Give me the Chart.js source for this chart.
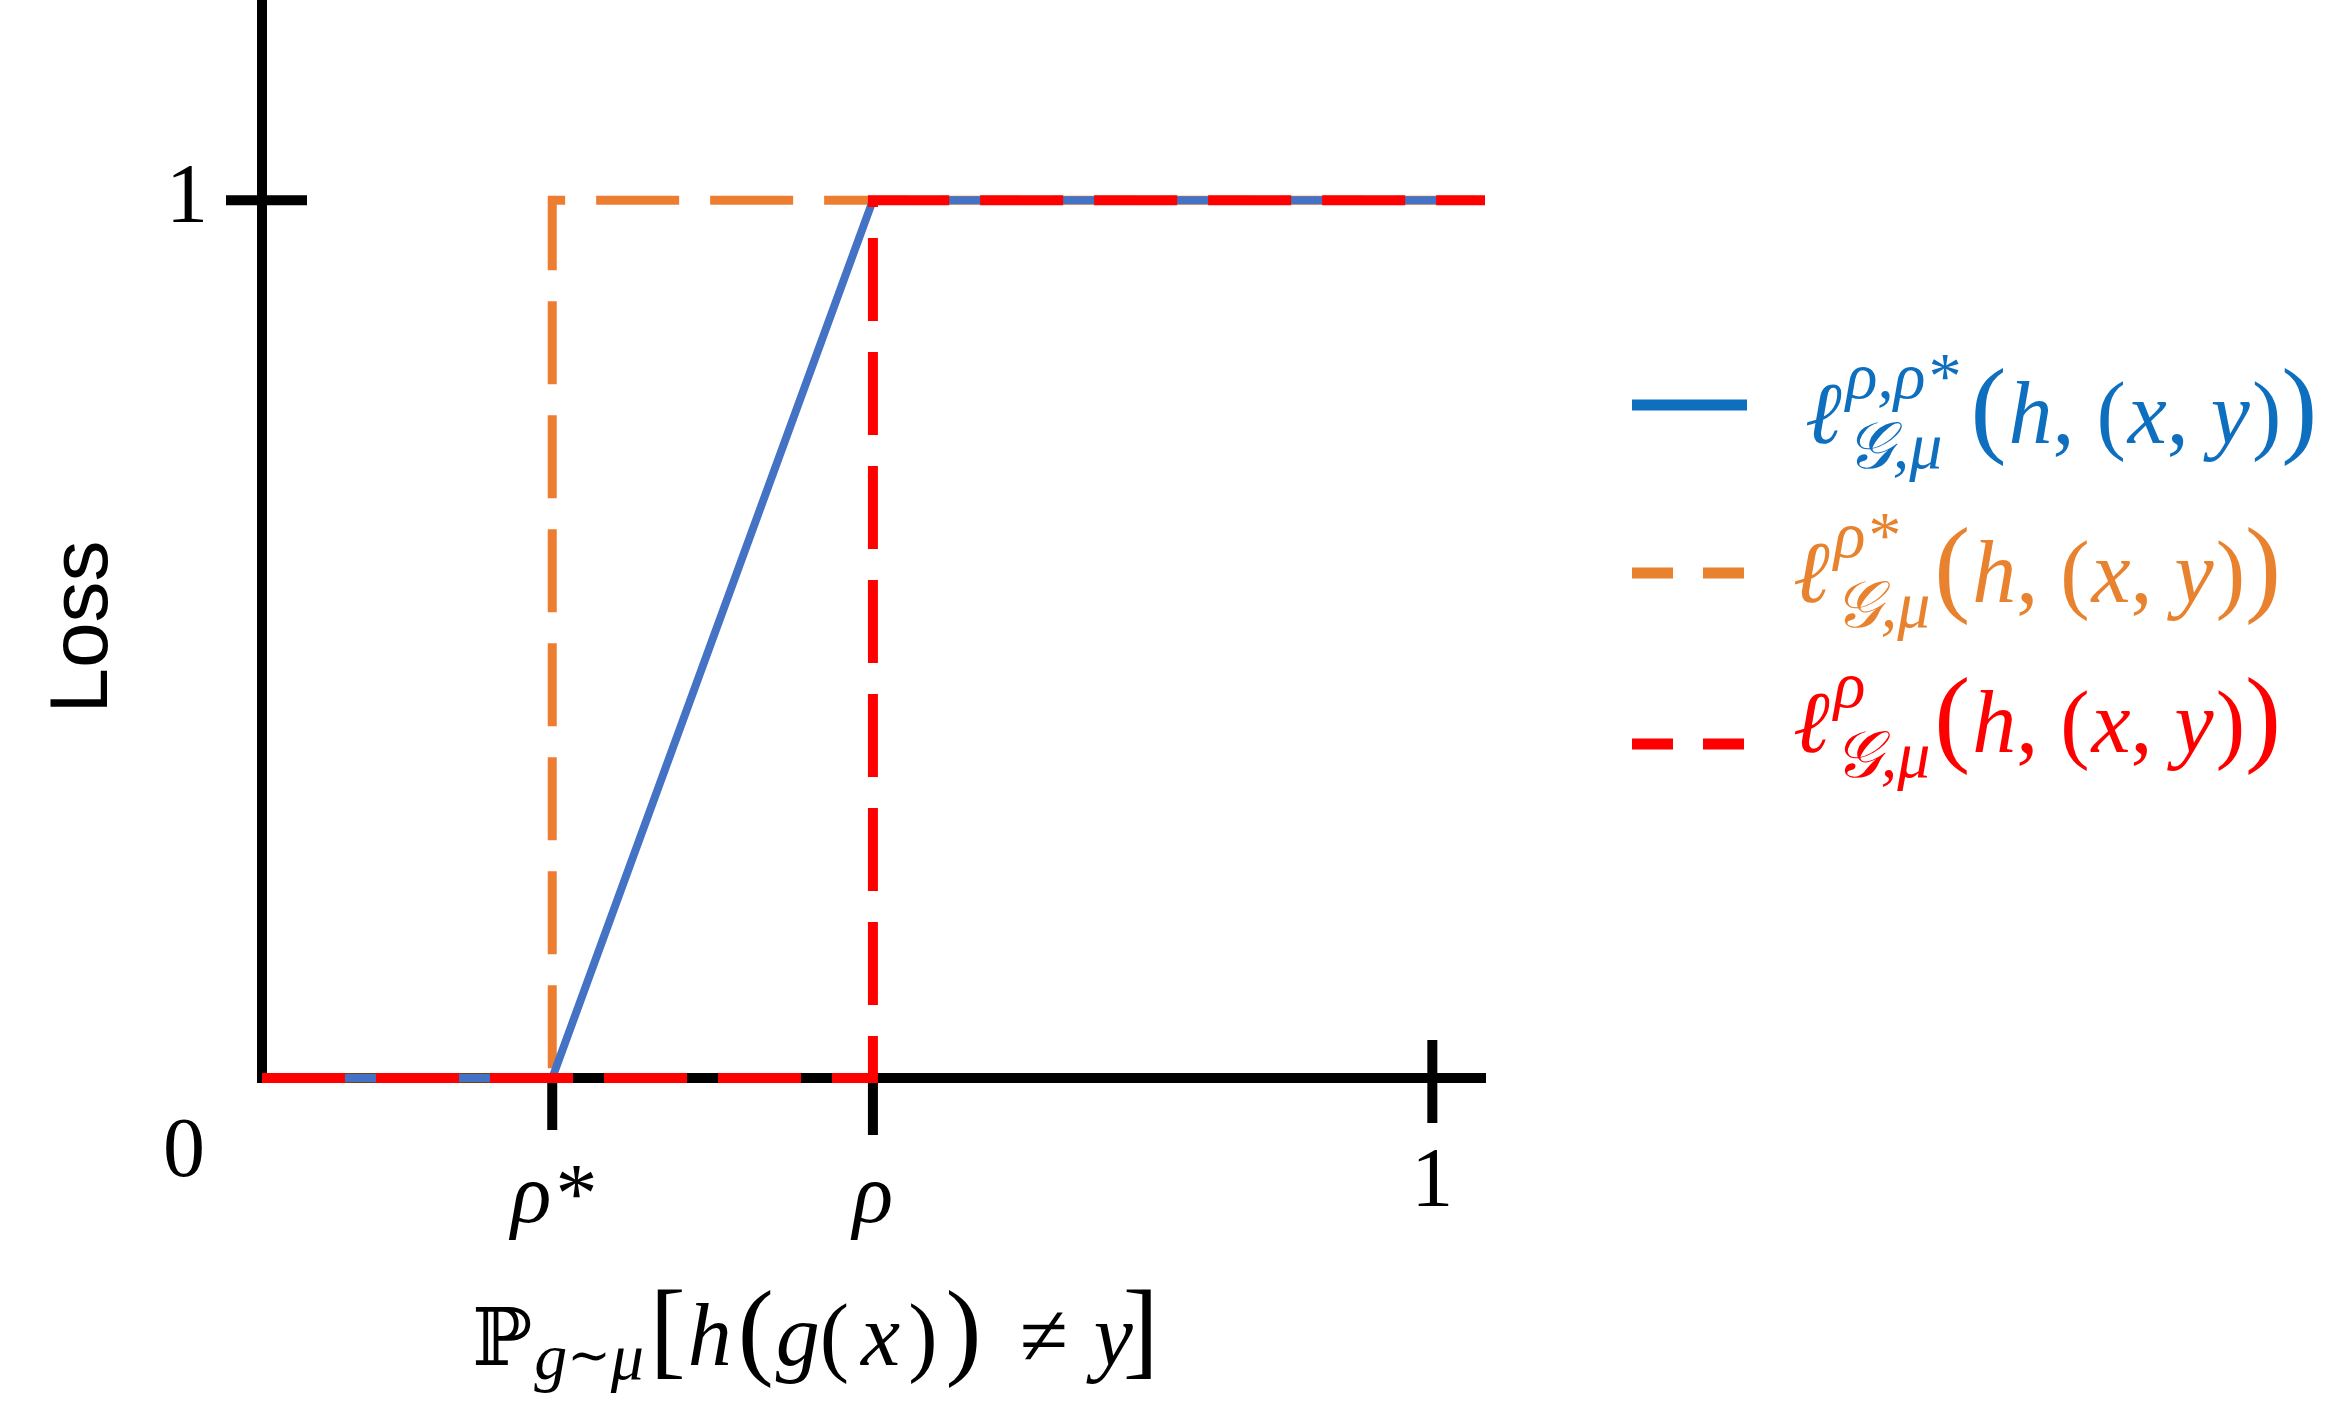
<!DOCTYPE html>
<html>
<head>
<meta charset="utf-8">
<title>Loss vs misclassification probability</title>
<script src="https://cdn.jsdelivr.net/npm/chart.js@4.4.1/dist/chart.umd.min.js"></script>
<style>
  html, body { margin: 0; padding: 0; background: #fff; }
  #wrap { width: 2332px; height: 1425px; }
</style>
</head>
<body>
<div id="wrap"><canvas id="lossChart" width="2332" height="1425"></canvas></div>
<script>
// values
const rhoStar = 0.248;
const rho = 0.522;
const xMax = 1.045;
const yMax = 1.228;

const xTickValues = [rhoStar, rho, 1];
const xTickLabels = ['ρ*', 'ρ', '1'];
const yTickValues = [1];
const yTickLabels = ['1'];

// three loss curves (x, y breakpoints)
const rampX = [0, rhoStar, rho, xMax];
const rampY = [0, 0, 1, 1];
const stepStarX = [0, rhoStar, rhoStar, xMax];
const stepStarY = [0, 0, 1, 1];
const stepRhoX = [0, rho, rho, xMax];
const stepRhoY = [0, 0, 1, 1];

// legend text pieces
const legendSup = ['ρ,ρ*', 'ρ*', 'ρ'];
const legendSub = ['𝒢,μ', '𝒢,μ', '𝒢,μ'];
const legendArg = ['h', 'x', 'y'];

const toPoints = (xs, ys) => xs.map((x, i) => ({ x: x, y: ys[i] }));

// styles / layout
const AXIS_W = 10;
const SERIF = '"Liberation Serif"';
const F = {
  main: 'italic 88px ' + SERIF,
  up: '88px ' + SERIF,
  big: '108px ' + SERIF,
  script: 'italic 66px ' + SERIF,
  sub: 'italic 66px ' + SERIF,
  subOp: '52px "DejaVu Serif"',
  bb: '80px "DejaVu Serif"',
  tick: '84px ' + SERIF
};
const legendColors = ['#0F6FBF', '#E8822E', '#FF0000'];
const legendLayout = {
  lineX: [1632, 1747],
  lineY: [405, 573, 744],
  textX: [1805, 1793, 1793],
  baseline: [443, 602, 752]
};
// tick marks: how far they go inside / outside the plot
const xTickIn = [0, 0, 43];
const xTickOut = [47, 52, 40];
const yTickIn = [50];
const yTickOut = [31];

function drawRuns(ctx, x, y, runs) {
  for (const r of runs) {
    ctx.font = r.font;
    x += r.gap || 0;
    ctx.fillText(r.text, x, y + (r.dy || 0));
    x += ctx.measureText(r.text).width;
  }
  return x;
}

const figureText = {
  id: 'figureText',
  beforeDatasetsDraw(chart) {
    const ctx = chart.ctx;
    const xs = chart.scales.x, ys = chart.scales.y;
    const axisY = ys.getPixelForValue(0) + AXIS_W / 2;
    const axisX = xs.getPixelForValue(0) - AXIS_W / 2;
    ctx.save();
    ctx.strokeStyle = '#000';
    ctx.lineWidth = AXIS_W;
    ctx.beginPath();
    xTickValues.forEach((v, i) => {
      const px = xs.getPixelForValue(v);
      ctx.moveTo(px, axisY - xTickIn[i]);
      ctx.lineTo(px, axisY + xTickOut[i]);
    });
    yTickValues.forEach((v, i) => {
      const py = ys.getPixelForValue(v);
      ctx.moveTo(axisX - yTickOut[i], py);
      ctx.lineTo(axisX + yTickIn[i], py);
    });
    ctx.stroke();
    ctx.restore();
  },
  afterDraw(chart) {
    const ctx = chart.ctx;
    ctx.save();
    ctx.textBaseline = 'alphabetic';
    ctx.fillStyle = '#000';

    // origin label
    ctx.font = F.tick;
    ctx.textAlign = 'center';
    ctx.fillText('0', 184, 1176);

    // y axis title
    ctx.save();
    ctx.translate(107, 627);
    ctx.rotate(-Math.PI / 2);
    ctx.font = '82px "Liberation Sans"';
    ctx.fillText('Loss', 0, 0);
    ctx.restore();

    // x axis title  P_{g~mu}[h(g(x)) != y]
    ctx.textAlign = 'left';
    drawRuns(ctx, 472, 1365, [
      { text: 'ℙ', font: F.bb },
      { text: 'g', font: F.sub, dy: 14, gap: 2 },
      { text: '∼', font: F.subOp, dy: 8, gap: 0 },
      { text: 'μ', font: F.sub, dy: 14, gap: 0 },
      { text: '[', font: F.big, gap: 6 },
      { text: 'h', font: F.main, gap: 2 },
      { text: '(', font: F.big, gap: 6 },
      { text: 'g', font: F.main, gap: 2 },
      { text: '(', font: F.up, gap: 0 },
      { text: 'x', font: F.main, gap: 12 },
      { text: ')', font: F.up, gap: 8 },
      { text: ')', font: F.big, gap: 8 },
      { text: '≠', font: F.up, gap: 38 },
      { text: 'y', font: F.main, gap: 26 },
      { text: ']', font: F.big, gap: -10 }
    ]);

    // legend
    legendSup.forEach((sup, i) => {
      const ly = legendLayout.lineY[i];
      ctx.save();
      ctx.strokeStyle = legendColors[i];
      ctx.lineWidth = 11;
      ctx.setLineDash(i === 0 ? [] : [41, 30]);
      ctx.beginPath();
      ctx.moveTo(legendLayout.lineX[0], ly);
      ctx.lineTo(legendLayout.lineX[1], ly);
      ctx.stroke();
      ctx.restore();

      ctx.fillStyle = legendColors[i];
      const bl = legendLayout.baseline[i];
      let x = legendLayout.textX[i];
      ctx.font = F.main;
      ctx.fillText('ℓ', x, bl);
      x += ctx.measureText('ℓ').width + 4;
      ctx.font = F.script;
      ctx.fillText(sup, x, bl - 45);
      const wSup = ctx.measureText(sup).width;
      ctx.fillText(legendSub[i], x, bl + 25);
      const wSub = ctx.measureText(legendSub[i]).width;
      x += Math.max(wSup, wSub) + (i === 0 ? 12 : 4);
      const a = legendArg;
      drawRuns(ctx, x, bl, [
        { text: '(', font: F.big },
        { text: a[0], font: F.main, gap: 2 },
        { text: ', ', font: F.up },
        { text: '(', font: F.up },
        { text: a[1], font: F.main, gap: 2 },
        { text: ', ', font: F.up },
        { text: a[2], font: F.main },
        { text: ')', font: F.up, gap: 2 },
        { text: ')', font: F.big }
      ]);
    });
    ctx.restore();
  }
};

const lineBase = { pointRadius: 0, tension: 0, clip: false, fill: false };

new Chart(document.getElementById('lossChart'), {
  type: 'line',
  data: {
    datasets: [
      Object.assign({}, lineBase, {
        label: 'ramp loss',
        data: toPoints(rampX, rampY),
        borderColor: '#4472C4',
        borderWidth: 8,
        order: 1
      }),
      Object.assign({}, lineBase, {
        label: 'step at rho*',
        data: toPoints(stepStarX, stepStarY),
        borderColor: '#ED7D31',
        borderWidth: 9,
        borderDash: [83, 31],
        borderDashOffset: 42,
        order: 2
      }),
      Object.assign({}, lineBase, {
        label: 'step at rho',
        data: toPoints(stepRhoX, stepRhoY),
        borderColor: '#FF0000',
        borderWidth: 10,
        borderDash: [83, 31],
        order: 0
      })
    ]
  },
  options: {
    responsive: false,
    animation: false,
    events: [],
    layout: { padding: { left: 0, top: 0, right: 847, bottom: 0 } },
    plugins: { legend: { display: false }, tooltip: { enabled: false } },
    scales: {
      x: {
        type: 'linear',
        min: 0,
        max: xMax,
        afterBuildTicks: s => { s.ticks = xTickValues.map(v => ({ value: v })); },
        afterFit: s => { s.height = 347; s.paddingLeft = 0; s.paddingRight = 0; },
        grid: { display: false, drawTicks: false },
        border: { display: true, color: '#000', width: AXIS_W },
        ticks: {
          autoSkip: false,
          maxRotation: 0,
          padding: 72,
          color: '#000',
          font: c => c.index === 2
            ? { family: 'Liberation Serif', size: 84, lineHeight: 0.81 }
            : { family: 'Liberation Serif', size: 84, style: 'italic', lineHeight: 1.2 },
          callback: (v, i) => xTickLabels[i]
        }
      },
      y: {
        type: 'linear',
        min: 0,
        max: yMax,
        afterBuildTicks: s => { s.ticks = yTickValues.map(v => ({ value: v })); },
        afterFit: s => { s.width = 262; s.paddingTop = 0; s.paddingBottom = 0; },
        grid: { display: false, drawTicks: false },
        border: { display: true, color: '#000', width: AXIS_W },
        ticks: {
          padding: 54,
          color: '#000',
          font: { family: 'Liberation Serif', size: 84 },
          callback: (v, i) => yTickLabels[i]
        }
      }
    }
  },
  plugins: [figureText]
});
</script>
</body>
</html>
